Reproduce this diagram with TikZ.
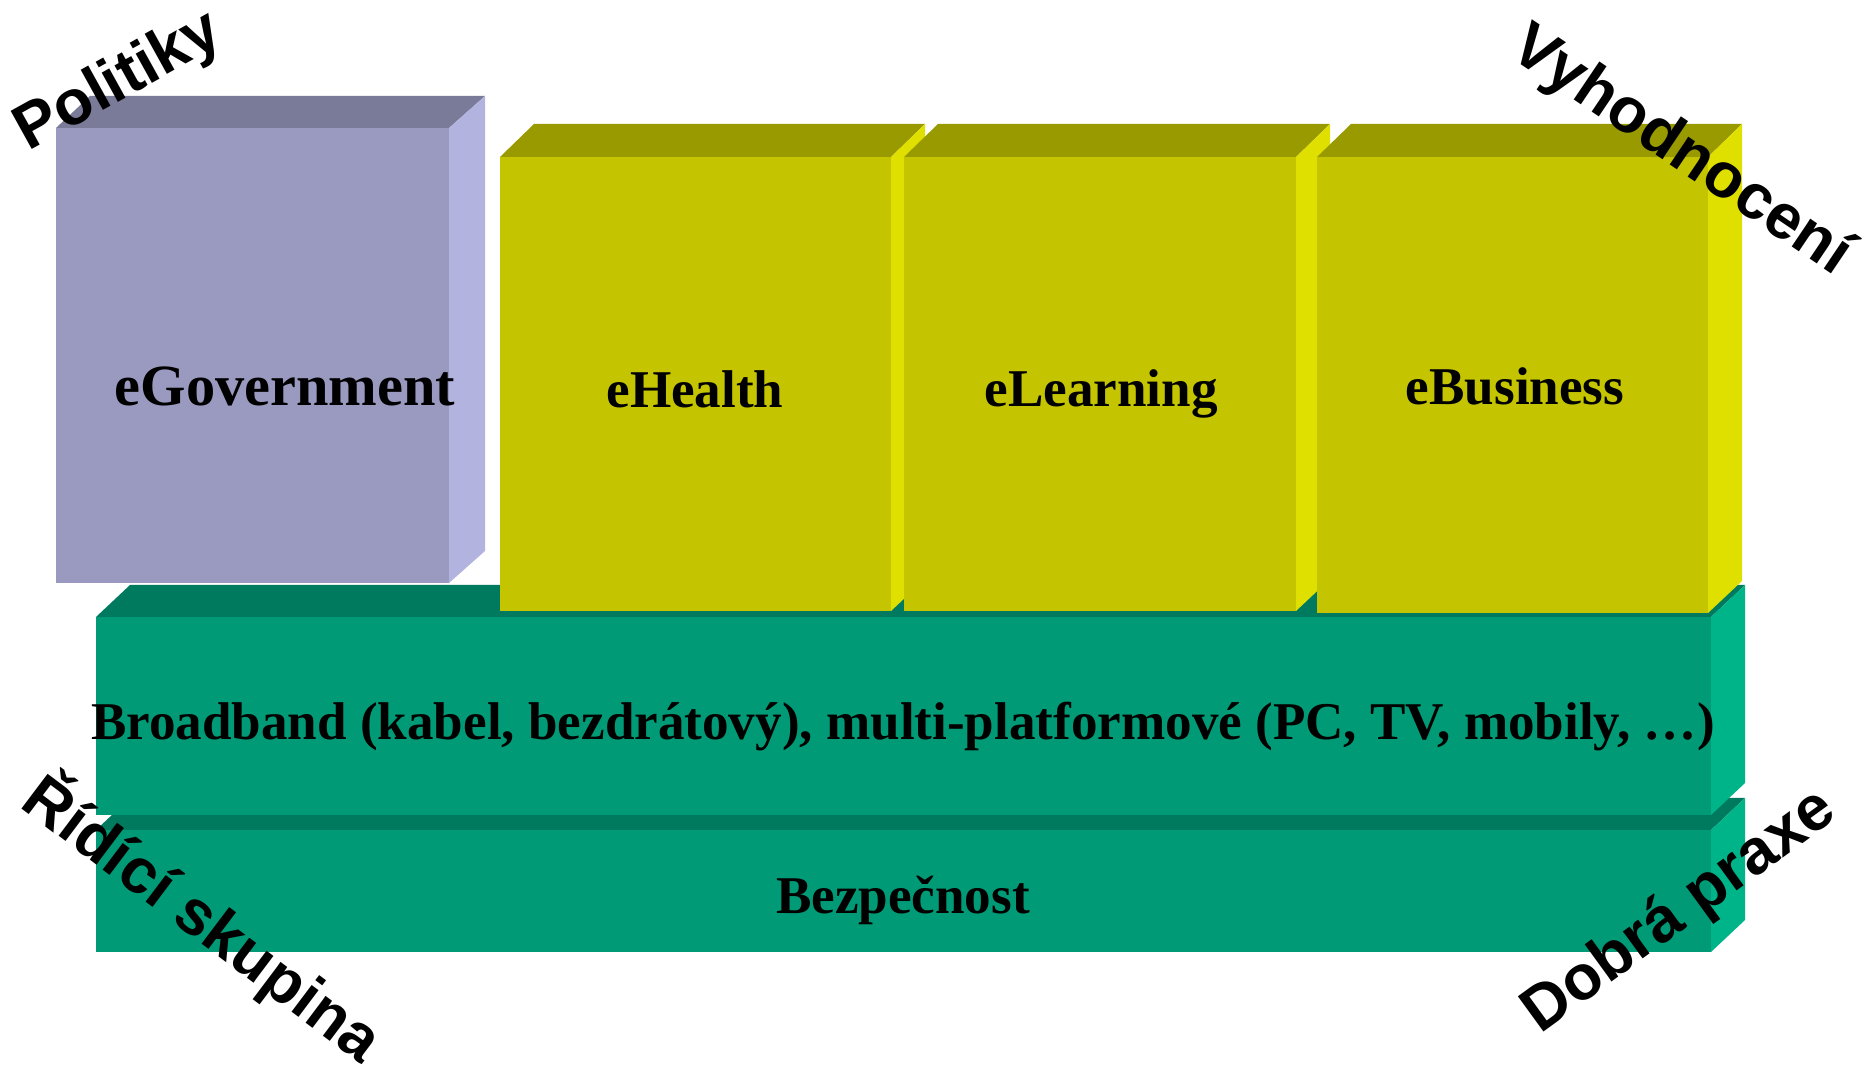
\documentclass[tikz,border=0pt]{standalone}
\usepackage{fontspec}
\setmainfont{Liberation Serif}
\newfontfamily\arialfont{Liberation Sans}
\definecolor{govfront}{RGB}{154,154,192}
\definecolor{govtop}{RGB}{122,122,153}
\definecolor{govside}{RGB}{179,179,224}
\definecolor{yelfront}{RGB}{196,196,0}
\definecolor{yeltop}{RGB}{153,153,0}
\definecolor{yelside}{RGB}{224,224,0}
\definecolor{grnfront}{RGB}{0,154,118}
\definecolor{grntop}{RGB}{0,122,94}
\definecolor{grnside}{RGB}{0,180,138}
\begin{document}
\begin{tikzpicture}[x=0.01cm,y=-0.01cm]
\tikzstyle{every node}+=[inner sep=0pt]
\tikzstyle{boxtext}=[font=\bfseries\fontsize{15.1}{18}\selectfont]
\tikzstyle{cornertext}=[font=\arialfont\bfseries\fontsize{18}{21}\selectfont]
\useasboundingbox (0,0) rectangle (1876,1065);
% Bezpecnost
\fill [grnfront] (96,830) rectangle (1711,952);
\fill [grntop] (96,830) -- (130,798) -- (1745,798) -- (1711,830) -- cycle;
\fill [grnside] (1711,830) -- (1745,798) -- (1745,920) -- (1711,952) -- cycle;
\draw (903,900) node [boxtext] (security) {Bezpečnost};
% Broadband
\fill [grnfront] (96,617) rectangle (1711,815);
\fill [grntop] (96,617) -- (130,585) -- (1745,585) -- (1711,617) -- cycle;
\fill [grnside] (1711,617) -- (1745,585) -- (1745,783) -- (1711,815) -- cycle;
\draw (903,727) node [boxtext] (broadband) {Broadband (kabel, bezdrátový), multi-platformové (PC, TV, mobily, …)};
% eGovernment
\fill [govfront] (56,128) rectangle (449,583);
\fill [govtop] (56,128) -- (90,96) -- (485,96) -- (449,128) -- cycle;
\fill [govside] (449,128) -- (485,96) -- (485,551) -- (449,583) -- cycle;
\draw (285,386) node [boxtext,font=\bfseries\fontsize{16.6}{20}\selectfont] (gov) {eGovernment};
% eHealth
\fill [yelfront] (500,157) rectangle (891,611);
\fill [yeltop] (500,157) -- (534,124) -- (925,124) -- (891,157) -- cycle;
\fill [yelside] (891,157) -- (925,124) -- (925,579) -- (891,611) -- cycle;
\draw (695,389) node [boxtext] (health) {eHealth};
% eLearning
\fill [yelfront] (904,157) rectangle (1296,611);
\fill [yeltop] (904,157) -- (938,124) -- (1330,124) -- (1296,157) -- cycle;
\fill [yelside] (1296,157) -- (1330,124) -- (1330,579) -- (1296,611) -- cycle;
\draw (1101,394) node [boxtext] (learning) {eLearning};
% eBusiness
\fill [yelfront] (1317,157) rectangle (1708,613);
\fill [yeltop] (1317,157) -- (1351,124) -- (1742,124) -- (1708,157) -- cycle;
\fill [yelside] (1708,157) -- (1742,124) -- (1742,581) -- (1708,613) -- cycle;
\draw (1515,386) node [boxtext] (business) {eBusiness};
% rotated labels
\draw (119,83) node [cornertext,rotate=29] (politiky) {Politiky};
\draw (1681,152) node [cornertext,rotate=-34] (vyhodnoceni) {Vyhodnocení};
\draw (203,918) node [cornertext,rotate=-37] (ridici) {Řídící skupina};
\draw (1680,912) node [cornertext,rotate=36] (praxe) {Dobrá praxe};
\end{tikzpicture}
\end{document}
